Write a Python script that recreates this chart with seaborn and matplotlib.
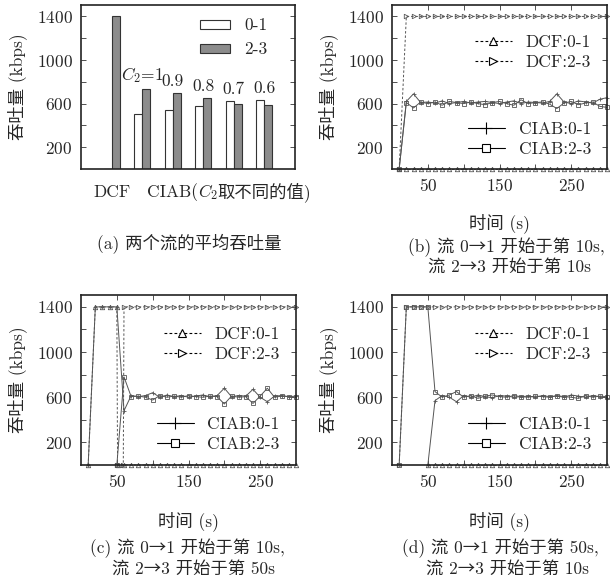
import pandas as pd
import numpy as np
import matplotlib
matplotlib.use('Agg')
import matplotlib.pyplot as plt
import matplotlib.transforms as mtrans
from matplotlib.lines import Line2D
from matplotlib.ticker import FixedLocator
import seaborn as sns

# ---- panel (a): average throughput of the two flows
groups = ['DCF', '1', '0.9', '0.8', '0.7', '0.6']
bar01 = [0, 502, 539, 576, 625, 632]
bar23 = [1400, 733, 696, 650, 597, 588]
c2_labels = ['$C_2$=1', '0.9', '0.8', '0.7', '0.6']

# ---- time grids (s)
t10 = list(range(10, 301, 10))
t50 = list(range(50, 301, 10))

# ---- panel (b): both flows start at 10 s
b_dcf01 = [0, 0, 0, 0, 0, 0, 0, 0, 0, 0, 0, 0, 0, 0, 0, 0, 0, 0, 0, 0, 0, 0, 0, 0, 0, 0, 0, 0, 0, 0]
b_dcf23 = [0, 1400, 1400, 1400, 1400, 1400, 1400, 1400, 1400, 1400, 1400, 1400, 1400, 1400, 1400,
           1400, 1400, 1400, 1400, 1400, 1400, 1400, 1400, 1400, 1400, 1400, 1400, 1400, 1400, 1400]
b_ciab01 = [0, 620, 690, 610, 615, 605, 625, 600, 610, 620, 605, 615, 620, 610, 600,
            615, 625, 600, 615, 610, 605, 620, 690, 615, 600, 625, 615, 605, 640, 655]
b_ciab23 = [0, 610, 560, 615, 600, 615, 585, 620, 610, 600, 615, 600, 590, 610, 620,
            600, 585, 635, 600, 610, 615, 595, 555, 605, 620, 590, 605, 615, 575, 565]

# ---- panel (c): flow 0-1 starts at 10 s, flow 2-3 at 50 s
c_dcf01_t = [10, 20, 30, 40, 50, 51] + list(range(60, 301, 10))
c_dcf01 = [0, 1400, 1400, 1400, 1400, 0, 0, 0, 0, 0, 0, 0, 0, 0, 0, 0, 0, 0, 0, 0, 0,
           0, 0, 0, 0, 0, 0, 0, 0, 0, 0]
c_dcf23_t = [50, 59] + list(range(60, 301, 10))
c_dcf23 = [0, 0, 1400, 1400, 1400, 1400, 1400, 1400, 1400, 1400, 1400, 1400, 1400, 1400, 1400,
           1400, 1400, 1400, 1400, 1400, 1400, 1400, 1400, 1400, 1400, 1400, 1400]
c_ciab01 = [0, 1400, 1400, 1400, 1400, 480, 615, 605, 615, 640, 600, 620, 605, 615, 600,
            610, 620, 605, 615, 680, 605, 615, 610, 670, 600, 560, 610, 615, 605, 610]
c_ciab23 = [0, 780, 605, 610, 600, 575, 615, 600, 610, 600, 615, 605, 600,
            610, 605, 540, 610, 600, 605, 545, 610, 680, 600, 610, 605, 600]

# ---- panel (d): flow 0-1 starts at 50 s, flow 2-3 at 10 s
d_dcf01 = [0, 0, 0, 0, 0, 0, 0, 0, 0, 0, 0, 0, 0, 0, 0, 0, 0, 0, 0, 0, 0, 0, 0, 0, 0, 0]
d_dcf23 = [0, 1400, 1400, 1400, 1400, 1400, 1400, 1400, 1400, 1400, 1400, 1400, 1400, 1400, 1400,
           1400, 1400, 1400, 1400, 1400, 1400, 1400, 1400, 1400, 1400, 1400, 1400, 1400, 1400, 1400]
d_ciab23 = [0, 1400, 1400, 1400, 1400, 650, 600, 620, 650, 600, 615, 590, 610, 620, 605,
            600, 615, 605, 600, 610, 605, 600, 615, 605, 600, 590, 615, 600, 610, 605]
d_ciab01 = [0, 570, 615, 600, 560, 615, 600, 620, 605, 595, 615, 610, 600,
            605, 610, 600, 615, 605, 610, 600, 620, 610, 600, 615, 605, 595]

sns.set_style('ticks')
plt.rcParams['font.family'] = ['cmr10', 'Noto Sans CJK SC']
plt.rcParams['mathtext.fontset'] = 'cm'
plt.rcParams['axes.formatter.use_mathtext'] = True
plt.rcParams['font.size'] = 12.5
plt.rcParams['axes.unicode_minus'] = False

W, H = 610, 582
fig = plt.figure(figsize=(W / 100, H / 100), dpi=100)


def px_axes(left, top, right, bottom):
    return fig.add_axes([left / W, 1 - bottom / H, (right - left) / W, (bottom - top) / H])


def frame(ax):
    for s in ax.spines.values():
        s.set_linewidth(1.2)
        s.set_color('#222222')
    ax.yaxis.set_major_locator(FixedLocator([200, 600, 1000, 1400]))
    ax.yaxis.set_minor_locator(FixedLocator([400, 800, 1200]))
    ax.tick_params(which='both', direction='in', top=True, right=True,
                   length=3.5, width=0.6, color='#333333', pad=6)
    ax.set_ylim(0, 1505)
    ax.set_ylabel('吞吐量 (kbps)')
    ax.yaxis.set_label_coords(-0.25, 0.5)


# ---------------- (a)
ax_a = px_axes(81, 5, 295, 169)
df_bar = pd.DataFrame({'group': groups * 2,
                       'flow': ['0-1'] * len(groups) + ['2-3'] * len(groups),
                       'thr': bar01 + bar23})
sns.barplot(data=df_bar, x='group', y='thr', hue='flow', order=groups,
            hue_order=['0-1', '2-3'], palette={'0-1': 'white', '2-3': '#8c8c8c'},
            width=0.52, edgecolor='#333333', linewidth=0.8, ax=ax_a)
frame(ax_a)
ax_a.set_xlim(-1, 6)
ax_a.set_xticks([])
ax_a.set_xlabel('')
for i, lab in enumerate(c2_labels):
    top = max(bar01[i + 1], bar23[i + 1])
    ax_a.text(i + 1, top + 40, lab, ha='center', va='bottom')
ax_a.legend(loc='center right', bbox_to_anchor=(0.87, 0.80), frameon=False,
            handlelength=1.75, handleheight=0.45, handletextpad=0.8,
            labelspacing=0.5, borderpad=0, borderaxespad=0)
tr = mtrans.blended_transform_factory(ax_a.transData, ax_a.transAxes)
base_y = -0.17
ax_a.text(0, base_y, 'DCF', transform=tr, ha='center', va='baseline')
p1 = ax_a.text(1.15, base_y, 'CIAB(', transform=tr, ha='left', va='baseline')
p2 = ax_a.annotate('$C_2$', xy=(1, base_y), xycoords=(p1, 'axes fraction'),
                   ha='left', va='baseline', annotation_clip=False)
ax_a.annotate('取不同的值)', xy=(1, base_y), xycoords=(p2, 'axes fraction'),
              ha='left', va='baseline', annotation_clip=False)

# ---------------- line panels
line_col = '#555555'
dash = (0, (2.5, 2))


def line_panel(ax, dcf01, dcf23, ciab01, ciab23):
    common = dict(ax=ax, color=line_col, lw=0.7, ms=3.2, mec=line_col, mew=0.6, clip_on=False)
    sns.lineplot(x=dcf01[0], y=dcf01[1], marker='^', mfc='none', linestyle=dash, **common)
    sns.lineplot(x=dcf23[0], y=dcf23[1], marker='>', mfc='none', linestyle=dash, **common)
    sns.lineplot(x=ciab01[0], y=ciab01[1], marker='+', linestyle='-', **common)
    sns.lineplot(x=ciab23[0], y=ciab23[1], marker='s', mfc='none', linestyle='-', **common)
    frame(ax)
    ax.set_xlim(0, 300)
    ax.xaxis.set_major_locator(FixedLocator([50, 150, 250]))
    ax.xaxis.set_minor_locator(FixedLocator([100, 200]))
    ax.set_xlabel('时间 (s)')
    ax.xaxis.set_label_coords(0.5, -0.27)

    hk = dict(color='black', lw=0.8, mec='black', mew=0.8)
    h1 = Line2D([], [], ls=dash, marker='^', ms=6, mfc='white', **hk)
    h2 = Line2D([], [], ls=dash, marker='>', ms=6, mfc='white', **hk)
    h3 = Line2D([], [], ls='-', marker='+', ms=9, **hk)
    h4 = Line2D([], [], ls='-', marker='s', ms=5.5, mfc='white', **hk)
    lk = dict(loc='center right', frameon=False, handlelength=2.1, handletextpad=0.8,
              labelspacing=0.3, borderpad=0, borderaxespad=0)
    leg1 = ax.legend([h1, h2], ['DCF:0-1', 'DCF:2-3'], bbox_to_anchor=(0.925, 0.71), **lk)
    ax.add_artist(leg1)
    ax.legend([h3, h4], ['CIAB:0-1', 'CIAB:2-3'], bbox_to_anchor=(0.925, 0.18), **lk)


ax_b = px_axes(392, 5, 607, 169)
line_panel(ax_b, (t10, b_dcf01), (t10, b_dcf23), (t10, b_ciab01), (t10, b_ciab23))

ax_c = px_axes(81, 295, 296, 465)
line_panel(ax_c, (c_dcf01_t, c_dcf01), (c_dcf23_t, c_dcf23), (t10, c_ciab01), (t50, c_ciab23))

ax_d = px_axes(392, 295, 607, 465)
line_panel(ax_d, (t50, d_dcf01), (t10, d_dcf23), (t50, d_ciab01), (t10, d_ciab23))

# ---------------- captions
cap = [
    (189, 244, '(a) 两个流的平均吞吐量'),
    (506, 247, '(b) 流 0→1 开始于第 10s,'),
    (510, 267, '流 2→3 开始于第 10s'),
    (187, 548, '(c) 流 0→1 开始于第 10s,'),
    (194, 569, '流 2→3 开始于第 50s'),
    (500, 548, '(d) 流 0→1 开始于第 50s,'),
    (507, 569, '流 2→3 开始于第 10s'),
]
for x, y, s in cap:
    fig.text(x / W, 1 - y / H, s, ha='center', va='center')

fig.savefig('out.png', dpi=100)
